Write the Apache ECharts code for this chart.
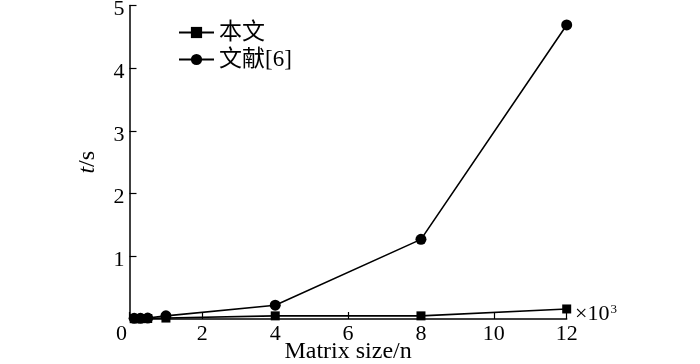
<!DOCTYPE html>
<html><head><meta charset="utf-8">
<script src="https://cdn.jsdelivr.net/npm/echarts@6/dist/echarts.min.js"></script>
<style>html,body{margin:0;padding:0;background:#fff}#c{width:700px;height:364px}</style>
</head><body><div id="c"></div>
<script>
var seriesNames = ['本文', '文献[6]'];
var xValues = [0.128, 0.3, 0.5, 1, 4, 8, 12];
var oursValues = [0.005, 0.005, 0.008, 0.015, 0.05, 0.05, 0.16];
var refValues = [0.01, 0.01, 0.015, 0.05, 0.22, 1.27, 4.69];
var xTicks = [0, 2, 4, 6, 8, 10, 12];
var yTicks = [0, 1, 2, 3, 4, 5];

var FONT = '"Liberation Serif", "Times New Roman", "Noto Sans CJK SC", serif';
function pairs(xs, ys){ return xs.map(function(x,i){ return [x, ys[i]]; }); }

var chart = echarts.init(document.getElementById('c'), null, {renderer:'canvas'});
chart.setOption({
  animation: false,
  textStyle: {fontFamily: FONT, color: '#000'},
  grid: {left: 129.5, right: 133.3, top: 5.5, bottom: 45, outerBoundsMode: 'none', containLabel: false},
  legend: {
    orient: 'vertical', left: 178, top: 21, padding: 0, itemWidth: 35, itemHeight: 14, itemGap: 4,
    textStyle: {fontFamily: FONT, fontSize: 23, color: '#000'},
    data: seriesNames
  },
  xAxis: {
    type: 'value', min: xTicks[0], max: xTicks[xTicks.length-1], interval: 2,
    name: 'Matrix size/n', nameLocation: 'middle', nameGap: 21, nameMoveOverlap: false,
    nameTextStyle: {fontFamily: FONT, fontSize: 24, color: '#000'},
    axisLine: {lineStyle: {color: '#000', width: 1.5}},
    axisTick: {inside: true, length: 7, lineStyle: {color: '#000', width: 1.2}},
    axisLabel: {fontFamily: FONT, fontSize: 22, color: '#000', margin: 4,
      formatter: function(v){ return v === 0 ? '{o|0}' : String(v); },
      rich: {o: {fontFamily: FONT, fontSize: 22, color: '#000', padding: [0,16,0,0]}}},
    splitLine: {show: false}
  },
  yAxis: {
    type: 'value', min: yTicks[0], max: yTicks[yTicks.length-1], interval: 1,
    name: '{i|t}/s', nameLocation: 'middle', nameGap: 30, nameRotate: 90,
    nameTextStyle: {fontFamily: FONT, fontSize: 24, color: '#000',
      rich: {i: {fontFamily: FONT, fontSize: 24, fontStyle: 'italic', color: '#000'}}},
    axisLine: {lineStyle: {color: '#000', width: 1.5}},
    axisTick: {inside: true, length: 7, lineStyle: {color: '#000', width: 1.2}},
    axisLabel: {fontFamily: FONT, fontSize: 22, color: '#000', margin: 5, showMinLabel: false,
      formatter: function(v){ return '{a|' + v + '}'; },
      rich: {a: {fontFamily: FONT, fontSize: 22, color: '#000', padding: [8,0,0,0]}}},
    splitLine: {show: false}
  },
  graphic: [{
    type: 'text', left: 575, top: 303,
    style: {text: '×10{s|3}', font: '22px ' + FONT, fill: '#000',
      rich: {s: {fontSize: 13, fontFamily: FONT, verticalAlign: 'top', padding: [0,0,8,1], fill:'#000'}}}
  }],
  series: [
    {name: seriesNames[0], type: 'line', data: pairs(xValues, oursValues),
     symbol: 'rect', symbolSize: 9, lineStyle: {color: '#000', width: 1.6},
     itemStyle: {color: '#000'}},
    {name: seriesNames[1], type: 'line', data: pairs(xValues, refValues),
     symbol: 'circle', symbolSize: 11, lineStyle: {color: '#000', width: 1.6},
     itemStyle: {color: '#000'}}
  ]
});
</script></body></html>
